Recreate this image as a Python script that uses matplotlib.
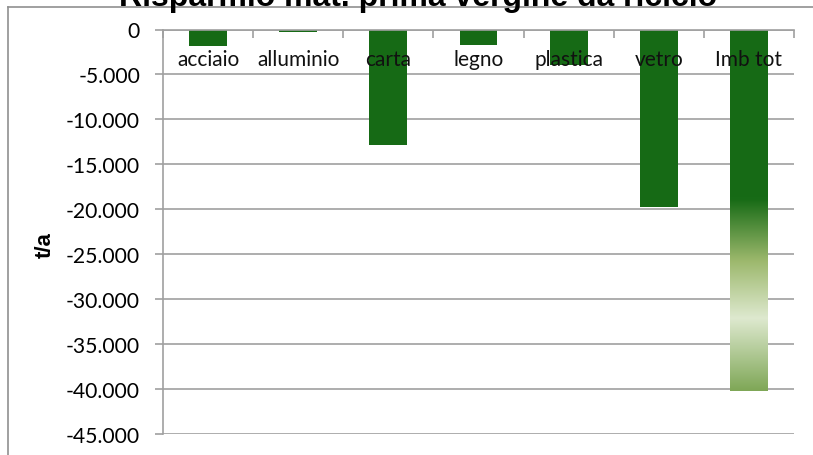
import numpy as np
import matplotlib
matplotlib.use('Agg')
import matplotlib.pyplot as plt
from matplotlib.colors import LinearSegmentedColormap
from matplotlib.ticker import FuncFormatter, MultipleLocator
import matplotlib.lines as mlines

# dati (t/a)
categories = ['acciaio', 'alluminio', 'carta', 'legno', 'plastica', 'vetro', 'Imb tot']
values = [-1800, -250, -12900, -1700, -3900, -19700, -40250]
title = 'Risparmio mat. prima vergine da riciclo'

green = '#166a15'
fig = plt.figure(figsize=(8.13, 4.56), dpi=100)
ax = fig.add_axes([163/813, 1 - 435/456, (794-163)/813, (435-30.5)/456])

x = np.arange(len(categories))
w = 0.42
ax.bar(x[:-1], values[:-1], width=w, color=green, zorder=2)

# barra totale con gradiente
cmap = LinearSegmentedColormap.from_list('grad', [
    (0.0, '#166a15'), (0.47, '#176b16'), (0.64, '#9cb86c'),
    (0.80, '#dee9cf'), (1.0, '#7fa757')])
grad = np.linspace(0, 1, 256).reshape(-1, 1)
ax.imshow(grad, cmap=cmap, aspect='auto', origin='upper', zorder=2,
          extent=[x[-1]-w/2, x[-1]+w/2, values[-1], 0], interpolation='bicubic')

ax.set_xlim(-0.5, len(categories) - 0.5)
ax.set_ylim(-45000, 0)
ax.yaxis.set_major_locator(MultipleLocator(5000))
ax.yaxis.set_major_formatter(FuncFormatter(lambda v, p: f'{v:,.0f}'.replace(',', '.')))
ax.grid(axis='y', color='#a0a0a0', lw=1.2)
ax.set_axisbelow(True)

ax.xaxis.tick_top()
ax.set_xticks(np.arange(-0.5, len(categories), 1.0))
ax.set_xticklabels([])
ax.tick_params(axis='x', direction='in', length=6, color='#a0a0a0', width=1.2)
ax.tick_params(axis='y', direction='out', length=6, color='#a0a0a0', width=1.2,
               labelsize=15.2, pad=10.5)
for lab in ax.get_yticklabels():
    lab.set_fontfamily('Lato')

for s in ['right', 'bottom']:
    ax.spines[s].set_visible(False)
for s in ['left', 'top']:
    ax.spines[s].set_color('#a0a0a0')
    ax.spines[s].set_linewidth(1.2)

for i, c in enumerate(categories):
    ax.text(i, -3300, c, ha='center', va='center', fontsize=15, family='Lato',
            color='#111111', zorder=5)

fig.text(45/813, 1 - 245/456, 't/a', rotation=90, ha='center', va='center',
         fontsize=16, fontweight='bold', family='Liberation Sans')
fig.text(418/813, 1 - 6/456, title, ha='center', va='baseline',
         fontsize=23, fontweight='bold', family='Liberation Sans')

# cornice del grafico
fig.add_artist(mlines.Line2D([8/813, 8/813], [0, 1 - 8/456], color='#909090', lw=1.2))
fig.add_artist(mlines.Line2D([8/813, 1], [1 - 8/456, 1 - 8/456], color='#909090', lw=1.2))

fig.savefig('out.png', dpi=100)
